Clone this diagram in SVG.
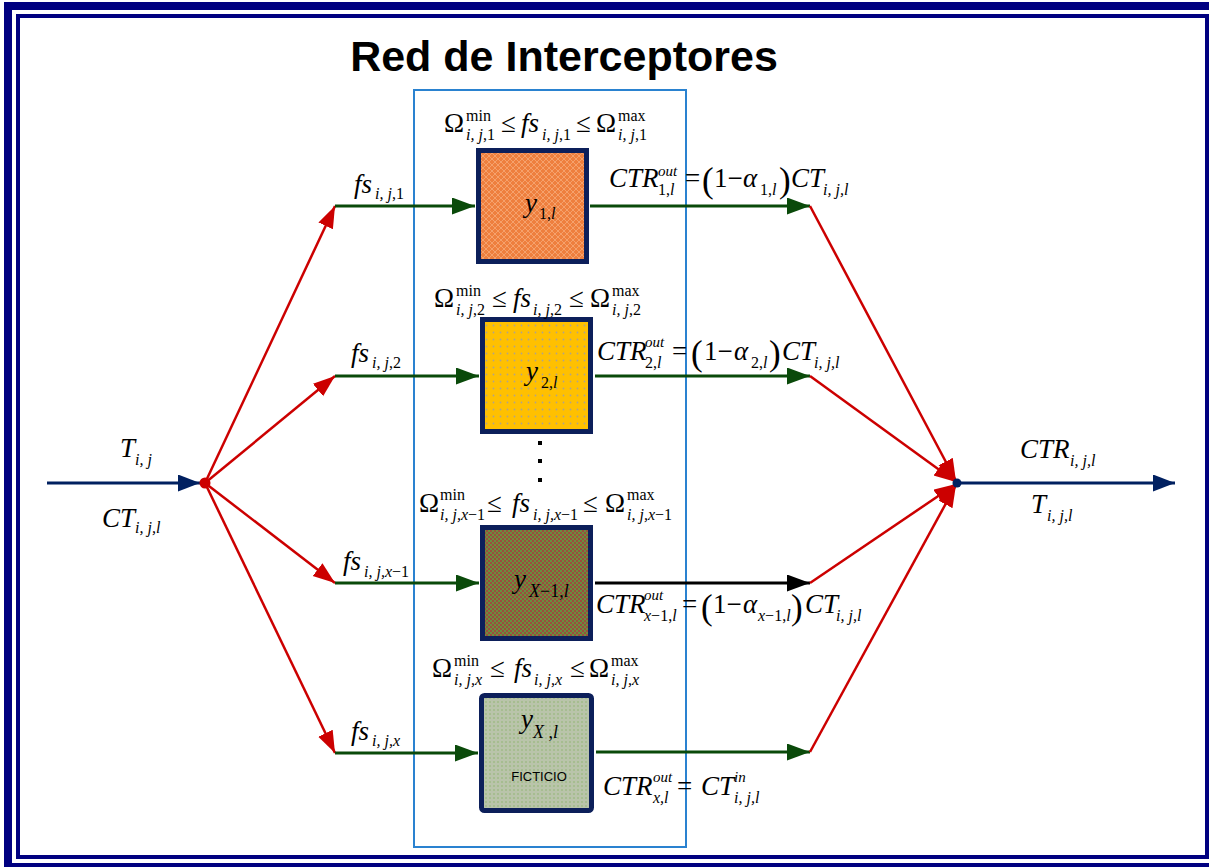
<svg xmlns="http://www.w3.org/2000/svg" width="1209" height="867" viewBox="0 0 1209 867">
<style>
.t{font-family:"Liberation Serif","Times New Roman",serif;fill:#000}
.b{font-size:27px}
.bi{font-size:27px;font-style:italic}
.s{font-size:16px}
.si{font-size:16px;font-style:italic}
.i{font-style:italic}
.p{font-size:35px}
.box{stroke:#0c1f5a;stroke-width:5}
.gl{stroke:#0a4a0a;stroke-width:3;fill:none}
.rl{stroke:#cc0000;stroke-width:2.5;fill:none}
.nl{stroke:#002060;stroke-width:3;fill:none}
</style>
<defs>
<marker id="ag" markerUnits="userSpaceOnUse" markerWidth="24" markerHeight="18" refX="23" refY="8.5" orient="auto"><path d="M0,0 L23,8.5 L0,17 z" fill="#0a4a0a"/></marker>
<marker id="ak" markerUnits="userSpaceOnUse" markerWidth="24" markerHeight="18" refX="23" refY="8.5" orient="auto"><path d="M0,0 L23,8.5 L0,17 z" fill="#000"/></marker>
<marker id="ar" markerUnits="userSpaceOnUse" markerWidth="24" markerHeight="18" refX="22" refY="8" orient="auto"><path d="M0,0 L22,8 L0,16 z" fill="#cc0000"/></marker>
<marker id="an" markerUnits="userSpaceOnUse" markerWidth="24" markerHeight="18" refX="22" refY="8.5" orient="auto"><path d="M0,0 L22,8.5 L0,17 z" fill="#002060"/></marker>
<pattern id="p1" width="6" height="6" patternUnits="userSpaceOnUse"><rect width="6" height="6" fill="#ee7f3e"/><path d="M0,3 L3,0 L6,3 L3,6 z" fill="none" stroke="#f6a977" stroke-width="0.8"/></pattern>
<pattern id="p2" width="7" height="7" patternUnits="userSpaceOnUse"><rect width="7" height="7" fill="#ffc000"/><circle cx="3.5" cy="3.5" r="0.9" fill="#b0a38a"/></pattern>
<pattern id="p3" width="4" height="4" patternUnits="userSpaceOnUse"><rect width="4" height="4" fill="#6a8e3e"/><rect width="2" height="2" fill="#9a4e3c"/><rect x="2" y="2" width="2" height="2" fill="#9a4e3c"/></pattern>
<pattern id="p4" width="4" height="4" patternUnits="userSpaceOnUse"><rect width="4" height="4" fill="#b9c4aa"/><circle cx="2" cy="2" r="0.8" fill="#8db46e"/></pattern>
</defs>
<rect width="1209" height="867" fill="#fff"/>
<g id="frame" fill="none" stroke="#000080">
<rect x="8" y="6" width="1205" height="861" stroke-width="8"/>
<rect x="18" y="16" width="1189" height="841" stroke-width="4"/>
</g>
<text id="title" x="564" y="71" text-anchor="middle" style="font-family:'Liberation Sans',Arial,sans-serif;font-weight:bold;font-size:43px">Red de Interceptores</text>
<rect id="network" x="414" y="90" width="272" height="757" fill="none" stroke="#2a82d0" stroke-width="2"/>

<g id="connectors">
<line class="nl" x1="47" y1="483" x2="200" y2="483" marker-end="url(#an)"/>
<line class="nl" x1="957" y1="483" x2="1175" y2="483" marker-end="url(#an)"/>
<line class="rl" x1="205" y1="483" x2="335" y2="206" marker-end="url(#ar)"/>
<line class="rl" x1="205" y1="483" x2="335" y2="376" marker-end="url(#ar)"/>
<line class="rl" x1="205" y1="483" x2="335" y2="583" marker-end="url(#ar)"/>
<line class="rl" x1="205" y1="483" x2="335" y2="753" marker-end="url(#ar)"/>
<line class="gl" x1="335" y1="206" x2="475" y2="206" marker-end="url(#ag)"/>
<line class="gl" x1="335" y1="376" x2="479" y2="376" marker-end="url(#ag)"/>
<line class="gl" x1="335" y1="583" x2="479" y2="583" marker-end="url(#ag)"/>
<line class="gl" x1="335" y1="753" x2="478" y2="753" marker-end="url(#ag)"/>
<line class="gl" x1="590" y1="206" x2="810" y2="206" marker-end="url(#ag)"/>
<line class="gl" x1="595" y1="376" x2="810" y2="376" marker-end="url(#ag)"/>
<line x1="595" y1="583" x2="810" y2="583" stroke="#000" stroke-width="3" marker-end="url(#ak)"/>
<line class="gl" x1="596" y1="752" x2="810" y2="752" marker-end="url(#ag)"/>
<line class="rl" x1="810" y1="206" x2="956" y2="481" marker-end="url(#ar)"/>
<line class="rl" x1="810" y1="376" x2="956" y2="482" marker-end="url(#ar)"/>
<line class="rl" x1="810" y1="583" x2="956" y2="484" marker-end="url(#ar)"/>
<line class="rl" x1="810" y1="752" x2="956" y2="485" marker-end="url(#ar)"/>
<circle cx="205" cy="483" r="5.5" fill="#cc0000"/>
<circle cx="957" cy="483" r="4.5" fill="#002060"/>
</g>

<g id="node1">
<rect class="box" x="478.5" y="150.5" width="108" height="111" fill="url(#p1)"/>
<text class="t bi" x="525" y="212">y</text><text class="t s" x="539" y="219">1,<tspan class="i">l</tspan></text>
</g>
<g id="node2">
<rect class="box" x="482.5" y="319.5" width="108" height="112" fill="url(#p2)"/>
<text class="t bi" x="526" y="380">y</text><text class="t s" x="541" y="388">2,<tspan class="i">l</tspan></text>
</g>
<g id="node3">
<rect class="box" x="482.5" y="527.5" width="108" height="111" fill="url(#p3)"/>
<text class="t bi" x="514" y="588">y</text><text class="t" style="font-size:18px" x="529" y="597"><tspan class="i">X</tspan>−1,<tspan class="i">l</tspan></text>
</g>
<g id="node4">
<rect class="box" x="481.5" y="695.5" width="110" height="115" rx="3" fill="url(#p4)"/>
<text class="t bi" x="521" y="728">y</text><text class="t" style="font-size:18px" x="533" y="738"><tspan class="i">X</tspan> ,<tspan class="i">l</tspan></text>
<text x="539" y="781" text-anchor="middle" style="font-family:'Liberation Sans',Arial,sans-serif;font-size:13px">FICTICIO</text>
</g>

<g id="dots" fill="#000">
<rect x="538" y="441" width="4" height="4"/>
<rect x="538" y="459" width="4" height="4"/>
<rect x="538" y="478" width="4" height="4"/>
</g>

<g id="labels-left">
<text class="t bi" x="120" y="457">T</text><text class="t si" x="135" y="465">i, j</text>
<text class="t bi" x="102" y="527">CT</text><text class="t si" x="135" y="533">i, j,l</text>
<text class="t bi" x="354" y="193">fs</text><text class="t s" x="375" y="199"><tspan class="i">i, j</tspan>,1</text>
<text class="t bi" x="351" y="362">fs</text><text class="t s" x="372" y="368"><tspan class="i">i, j</tspan>,2</text>
<text class="t bi" x="343" y="570">fs</text><text class="t s" x="364" y="577"><tspan class="i">i, j,x</tspan>−1</text>
<text class="t bi" x="351" y="740">fs</text><text class="t si" x="372" y="746">i, j,x</text>
</g>

<g id="labels-right">
<text class="t bi" x="1020" y="458">CTR</text><text class="t si" x="1070" y="466">i, j,l</text>
<text class="t bi" x="1031" y="513">T</text><text class="t si" x="1047" y="521">i, j,l</text>
</g>

<g id="constraint1">
<text class="t b" x="444" y="132">Ω</text>
<text class="t s" x="466" y="121">min</text><text class="t s" x="466" y="140"><tspan class="i">i, j</tspan>,1</text>
<text class="t b" x="501" y="132">≤</text>
<text class="t bi" x="521" y="132">fs</text><text class="t s" x="542" y="140"><tspan class="i">i, j</tspan>,1</text>
<text class="t b" x="576" y="132">≤</text>
<text class="t b" x="596" y="132">Ω</text>
<text class="t s" x="618" y="121">max</text><text class="t s" x="618" y="140"><tspan class="i">i, j</tspan>,1</text>
</g>
<g id="constraint2">
<text class="t b" x="434" y="307">Ω</text>
<text class="t s" x="456" y="296">min</text><text class="t s" x="456" y="315"><tspan class="i">i, j</tspan>,2</text>
<text class="t b" x="492" y="307">≤</text>
<text class="t bi" x="513" y="307">fs</text><text class="t s" x="533" y="315"><tspan class="i">i, j</tspan>,2</text>
<text class="t b" x="569" y="307">≤</text>
<text class="t b" x="590" y="307">Ω</text>
<text class="t s" x="612" y="296">max</text><text class="t s" x="612" y="315"><tspan class="i">i, j</tspan>,2</text>
</g>
<g id="constraint3">
<text class="t b" x="419" y="512">Ω</text>
<text class="t s" x="440" y="500">min</text><text class="t s" x="440" y="520"><tspan class="i">i, j,x</tspan>−1</text>
<text class="t b" x="487" y="512">≤</text>
<text class="t bi" x="512" y="512">fs</text><text class="t s" x="533" y="520"><tspan class="i">i, j,x</tspan>−1</text>
<text class="t b" x="583" y="512">≤</text>
<text class="t b" x="605" y="512">Ω</text>
<text class="t s" x="627" y="500">max</text><text class="t s" x="627" y="520"><tspan class="i">i, j,x</tspan>−1</text>
</g>
<g id="constraint4">
<text class="t b" x="432" y="677">Ω</text>
<text class="t s" x="454" y="666">min</text><text class="t si" x="454" y="685">i, j,x</text>
<text class="t b" x="490" y="677">≤</text>
<text class="t bi" x="514" y="677">fs</text><text class="t si" x="534" y="685">i, j,x</text>
<text class="t b" x="570" y="677">≤</text>
<text class="t b" x="589" y="677">Ω</text>
<text class="t s" x="611" y="666">max</text><text class="t si" x="611" y="685">i, j,x</text>
</g>

<g id="output1">
<text class="t bi" x="609" y="187">CTR</text>
<text class="t si" x="658" y="176" style="font-size:15px">out</text><text class="t s" x="658" y="195">1,<tspan class="i">l</tspan></text>
<text class="t b" x="685" y="187">=</text>
<text class="t p" x="702" y="192">(</text>
<text class="t b" x="714" y="187">1−</text><text class="t bi" x="743" y="187">α</text><text class="t s" x="760" y="195">1,<tspan class="i">l</tspan></text>
<text class="t p" x="779" y="192">)</text>
<text class="t bi" x="791" y="187">CT</text><text class="t si" x="823" y="195">i, j,l</text>
</g>
<g id="output2">
<text class="t bi" x="597" y="360">CTR</text>
<text class="t si" x="645" y="347" style="font-size:15px">out</text><text class="t s" x="645" y="368">2,<tspan class="i">l</tspan></text>
<text class="t b" x="672" y="360">=</text>
<text class="t p" x="691" y="365">(</text>
<text class="t b" x="704" y="360">1−</text><text class="t bi" x="734" y="360">α</text><text class="t s" x="751" y="368">2,<tspan class="i">l</tspan></text>
<text class="t p" x="769" y="365">)</text>
<text class="t bi" x="782" y="360">CT</text><text class="t si" x="814" y="368">i, j,l</text>
</g>
<g id="output3">
<text class="t bi" x="596" y="613">CTR</text>
<text class="t si" x="644" y="600" style="font-size:15px">out</text><text class="t s" x="644" y="621"><tspan class="i">x</tspan>−1,<tspan class="i">l</tspan></text>
<text class="t b" x="682" y="613">=</text>
<text class="t p" x="701" y="619">(</text>
<text class="t b" x="713" y="613">1−</text><text class="t bi" x="743" y="613">α</text><text class="t s" x="758" y="621"><tspan class="i">x</tspan>−1,<tspan class="i">l</tspan></text>
<text class="t p" x="791" y="619">)</text>
<text class="t bi" x="805" y="613">CT</text><text class="t si" x="836" y="621">i, j,l</text>
</g>
<g id="output4">
<text class="t bi" x="603" y="795">CTR</text>
<text class="t si" x="653" y="782" style="font-size:15px">out</text><text class="t si" x="653" y="803">x,l</text>
<text class="t b" x="677" y="795">=</text>
<text class="t bi" x="701" y="795">CT</text>
<text class="t si" x="734" y="782" style="font-size:15px">in</text><text class="t si" x="734" y="803">i, j,l</text>
</g>
</svg>
